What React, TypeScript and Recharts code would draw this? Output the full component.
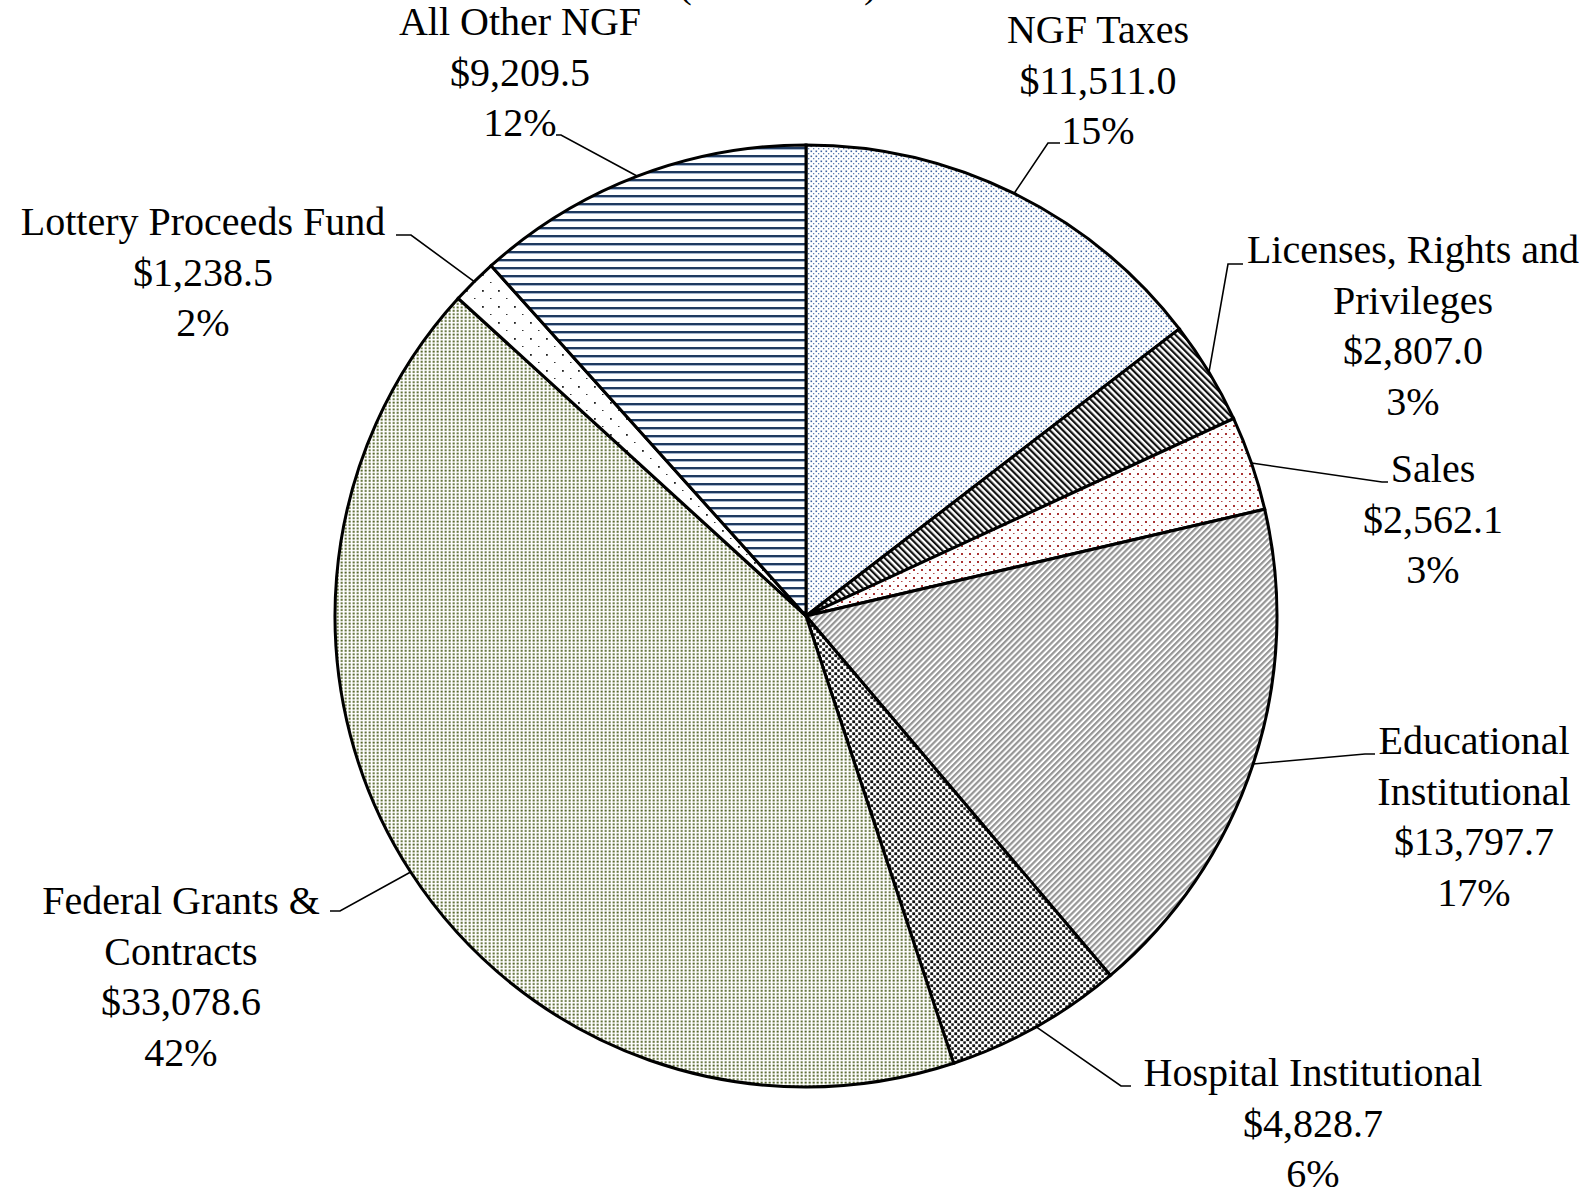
import React from "react";
import { Cell, Pie, PieChart } from "recharts";

const categories = [
  "NGF Taxes",
  "Licenses, Rights and|Privileges",
  "Sales",
  "Educational|Institutional",
  "Hospital Institutional",
  "Federal Grants &|Contracts",
  "Lottery Proceeds Fund",
  "All Other NGF",
];
const amounts = [11511.0, 2807.0, 2562.1, 13797.7, 4828.7, 33078.6, 1238.5, 9209.5];
const shares = ["15%", "3%", "3%", "17%", "6%", "42%", "2%", "12%"];
const patternIds = ["pTaxes", "pLicenses", "pSales", "pEdu", "pHosp", "pFed", "pLottery", "pOther"];

// label placement (text centre x, first baseline y, leader elbow, leader end)
const labelPos = [
  { x: 1098, y: 43, ex: 1048, ey: 143, tx: 1060 },
  { x: 1413, y: 263, ex: 1228, ey: 264, tx: 1243 },
  { x: 1433, y: 482, ex: 1382, ey: 482, tx: 1388 },
  { x: 1474, y: 754, ex: 1365, ey: 754, tx: 1375 },
  { x: 1313, y: 1086, ex: 1121, ey: 1086, tx: 1131 },
  { x: 181, y: 914, ex: 340, ey: 911, tx: 330 },
  { x: 203, y: 235, ex: 411, ey: 235, tx: 396 },
  { x: 520, y: 35, ex: 561, ey: 135, tx: 556 },
];

const FONT = "'Liberation Serif', 'Times New Roman', serif";
const FS = 40;
const LH = 50.5;

const money = (v: number) =>
  "$" + v.toLocaleString("en-US", { minimumFractionDigits: 1, maximumFractionDigits: 1 });

const data = categories.map((c, i) => ({ name: c, value: amounts[i] }));

function renderLabel(props: any) {
  const { cx, cy, midAngle, outerRadius, index } = props;
  const RAD = Math.PI / 180;
  const sx = cx + outerRadius * Math.cos(-midAngle * RAD);
  const sy = cy + outerRadius * Math.sin(-midAngle * RAD);
  const p = labelPos[index];
  const lines = [...categories[index].split("|"), money(amounts[index]), shares[index]];
  return (
    <g key={"lbl" + index}>
      <polyline
        points={`${sx},${sy} ${p.ex},${p.ey} ${p.tx},${p.ey}`}
        fill="none"
        stroke="#000"
        strokeWidth={1.6}
      />
      {lines.map((l, i) => (
        <text
          key={i}
          x={p.x}
          y={p.y + i * LH}
          textAnchor="middle"
          fontFamily={FONT}
          fontSize={FS}
          fill="#000"
        >
          {l}
        </text>
      ))}
    </g>
  );
}

function Patterns() {
  return (
    <svg width={0} height={0} style={{ position: "absolute" }}>
      <defs>
        <pattern id="pTaxes" width={5} height={5} patternUnits="userSpaceOnUse">
          <rect width={5} height={5} fill="#fff" />
          <rect x={0.5} y={0.5} width={1.6} height={1.6} fill="#3f64a0" />
          <rect x={3} y={3} width={1.3} height={1.3} fill="#5f80b4" />
        </pattern>
        <pattern id="pLicenses" width={4.6} height={4.6} patternUnits="userSpaceOnUse" patternTransform="rotate(-45)">
          <rect width={4.6} height={4.6} fill="#fff" />
          <rect x={0} y={0} width={2.2} height={4.6} fill="#111" />
        </pattern>
        <pattern id="pSales" width={8} height={8} patternUnits="userSpaceOnUse">
          <rect width={8} height={8} fill="#fff" />
          <rect x={1} y={1} width={2} height={2} fill="#a83232" />
          <rect x={5} y={5} width={1.5} height={1} fill="#b04848" />
        </pattern>
        <pattern id="pEdu" width={4.2} height={4.2} patternUnits="userSpaceOnUse" patternTransform="rotate(45)">
          <rect width={4.2} height={4.2} fill="#fff" />
          <rect x={0} y={0} width={2.2} height={4.2} fill="#969696" />
        </pattern>
        <pattern id="pHosp" width={6} height={6} patternUnits="userSpaceOnUse">
          <rect width={6} height={6} fill="#fff" />
          <rect x={0.3} y={0.3} width={2.8} height={2.8} fill="#111" />
          <rect x={3.3} y={3.3} width={2.5} height={2.5} fill="#111" />
        </pattern>
        <pattern id="pFed" width={4} height={3.4} patternUnits="userSpaceOnUse">
          <rect width={4} height={3.4} fill="#fff" />
          <rect x={0.6} y={0.5} width={2.1} height={1.8} fill="#56662a" />
        </pattern>
        <pattern id="pLottery" width={16} height={16} patternUnits="userSpaceOnUse">
          <rect width={16} height={16} fill="#fff" />
          <rect x={2} y={2} width={1.8} height={1.8} fill="#222" />
          <rect x={10} y={10} width={1.5} height={1} fill="#333" />
        </pattern>
        <pattern id="pOther" width={8} height={8} patternUnits="userSpaceOnUse">
          <rect width={8} height={8} fill="#fff" />
          <rect x={0} y={3} width={8} height={2} fill="#1f3a60" />
          <rect x={0} y={5} width={8} height={0.8} fill="#8fa3c0" />
        </pattern>
      </defs>
    </svg>
  );
}

export default function App() {
  return (
    <div style={{ position: "absolute", left: 0, top: 0, width: 1591, height: 1192, background: "#fff" }}>
      <Patterns />
      <svg width={1591} height={40} style={{ position: "absolute", left: 0, top: 0 }}>
        <text x={778} y={-3} textAnchor="middle" fontFamily={FONT} fontSize={FS} fill="#000">
          (in millions)
        </text>
      </svg>
      <div style={{ position: "absolute", left: 0, top: 0 }}>
        <PieChart width={1591} height={1192} margin={{ top: 0, right: 0, bottom: 0, left: 0 }}>
          <Pie
            data={data}
            dataKey="value"
            nameKey="name"
            cx={806}
            cy={616}
            outerRadius={471}
            startAngle={90}
            endAngle={-270}
            stroke="#000"
            strokeWidth={3}
            label={renderLabel}
            labelLine={false}
            isAnimationActive={false}
          >
            {data.map((d, i) => (
              <Cell key={d.name} fill={`url(#${patternIds[i]})`} />
            ))}
          </Pie>
        </PieChart>
      </div>
    </div>
  );
}
